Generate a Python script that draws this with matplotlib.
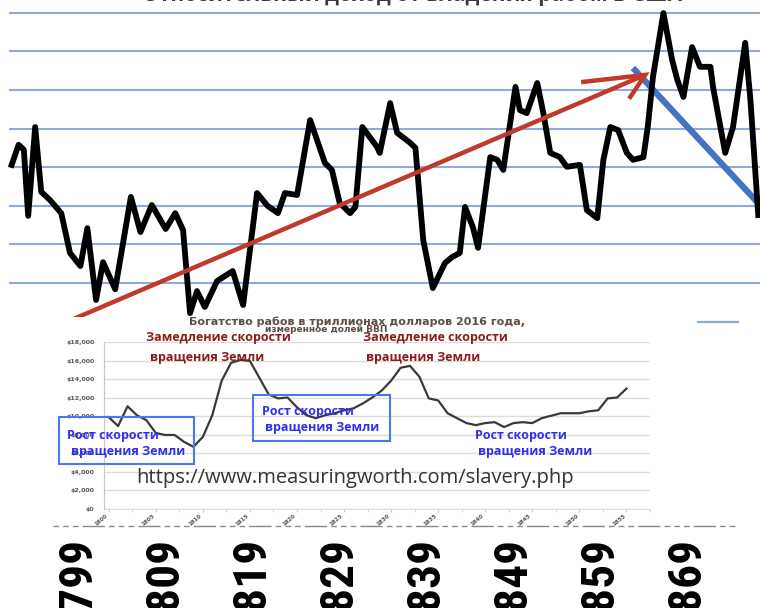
import numpy as np
import matplotlib
matplotlib.use("Agg")
import matplotlib.pyplot as plt
from matplotlib import font_manager
from matplotlib.lines import Line2D
from matplotlib.patches import Rectangle

W, H = 760, 608

# верхний график: относительный доход (условные единицы, линии сетки через 1)
top_years = [1791.6, 1792.4, 1793.0, 1793.5, 1794.3, 1795.0, 1796.0, 1797.3, 1798.3, 1799.5,
             1800.3, 1801.3, 1802.1, 1803.5, 1805.3, 1806.4, 1807.7, 1809.3, 1810.4, 1811.3,
             1812.1, 1812.9, 1813.8, 1815.2, 1817.0, 1818.2, 1819.8, 1821.0, 1822.2, 1823.0,
             1824.4, 1825.9, 1827.6, 1828.4, 1829.3, 1830.5, 1831.1, 1831.9, 1833.6, 1833.9,
             1835.1, 1835.9, 1837.4, 1838.0, 1838.9, 1840.0, 1841.4, 1842.2, 1843.1, 1843.7,
             1844.6, 1845.2, 1846.6, 1847.4, 1848.1, 1849.5, 1850.0, 1850.8, 1852.0, 1852.7,
             1853.5, 1854.6, 1855.4, 1856.9, 1857.7, 1858.9, 1859.6, 1860.4, 1861.3, 1862.3,
             1863.0, 1864.2, 1864.7, 1865.3, 1866.5, 1867.5, 1868.1, 1868.8, 1869.8, 1870.7,
             1871.9, 1872.2, 1873.6, 1874.5, 1875.9, 1876.5, 1877.4]
top_values = [3.06, 3.58, 3.45, 1.74, 4.04, 2.36, 2.15, 1.81, 0.78, 0.44,
              1.42, -0.44, 0.54, -0.16, 2.23, 1.32, 2.02, 1.40, 1.81, 1.37,
              -0.78, -0.21, -0.62, 0.05, 0.31, -0.57, 2.33, 2.00, 1.81, 2.33,
              2.28, 4.22, 3.11, 2.93, 2.07, 1.81, 1.97, 4.04, 3.52, 3.37,
              4.66, 3.89, 3.63, 3.50, 1.11, -0.13, 0.52, 0.67, 0.78, 1.97,
              1.45, 0.91, 3.26, 3.19, 2.93, 5.08, 4.48, 4.40, 5.18, 4.40,
              3.37, 3.26, 3.01, 3.06, 1.89, 1.68, 3.19, 4.04, 3.96, 3.37,
              3.19, 3.26, 4.04, 5.34, 6.99, 5.78, 5.26, 4.82, 6.11, 5.60,
              5.60, 5.08, 3.37, 4.04, 6.22, 4.74, 1.76]
top_grid = list(range(8))

arrow_x = [1798.0, 1864.4]
arrow_y = [-1.0, 5.39]
arrow_head_x = [1857.3, 1864.4, 1862.7]
arrow_head_y = [5.21, 5.39, 4.82]
down_x = [1863.0, 1878.5]
down_y = [5.57, 1.80]

# нижний график: богатство рабов, measuringworth
small_years = [1800, 1801, 1802, 1803, 1804, 1805, 1806, 1807, 1808, 1809,
               1810, 1811, 1812, 1813, 1814, 1815, 1816, 1817, 1818, 1819,
               1820, 1821, 1822, 1823, 1824, 1825, 1826, 1827, 1828, 1829,
               1830, 1831, 1832, 1833, 1834, 1835, 1836, 1837, 1838, 1839,
               1840, 1841, 1842, 1843, 1844, 1845, 1846, 1847, 1848, 1849,
               1850, 1851, 1852, 1853, 1854, 1855]
small_values = [9900, 8940, 11070, 10100, 9580, 8190, 7980, 7980, 7240, 6700,
                7770, 10100, 13830, 15750, 16070, 15960, 14150, 12340, 11920, 12020,
                10960, 10110, 9790, 10110, 10320, 10640, 10850, 11380, 12020, 12770,
                13830, 15220, 15430, 14260, 11920, 11700, 10320, 9790, 9260, 9040,
                9260, 9360, 8830, 9260, 9360, 9260, 9790, 10050, 10320, 10320,
                10320, 10530, 10640, 11920, 12020, 12980]
small_yticks = list(range(0, 18001, 2000))
small_xticks = list(range(1800, 1856, 5))

bottom_years = ['1799', '1809', '1819', '1829', '1839', '1849', '1859', '1869']


def fx(x):
    return x / W


def fy(y):
    return 1 - y / H


def box(x0, y0, x1, y1):
    return [x0 / W, 1 - y1 / H, (x1 - x0) / W, (y1 - y0) / H]


# узкий шрифт для крупных годов, если он есть
fonts = {(f.name, f.stretch) for f in font_manager.fontManager.ttflist}
names = {n for n, s in fonts}
narrow = ['condensed', 'semi-condensed', 'extra-condensed', 'ultra-condensed']
if 'Liberation Sans Narrow' in names:
    year_font = dict(family='Liberation Sans Narrow')
elif 'Roboto Condensed' in names:
    year_font = dict(family='Roboto Condensed')
elif any(n == 'Noto Sans' and s in narrow for n, s in fonts):
    year_font = dict(family='Noto Sans', fontstretch='condensed')
elif any(n == 'DejaVu Sans' and s in narrow for n, s in fonts):
    year_font = dict(family='DejaVu Sans', fontstretch='condensed')
else:
    year_font = dict(family='Liberation Sans')

fig = plt.figure(figsize=(7.6, 6.08), dpi=100)

ax_top = fig.add_axes(box(0, 0, 760, 317))
ax_top.set_xlim(1790.26, 1877.6)
ax_top.set_ylim(-0.88, 7.33)
ax_top.axis('off')
for g in top_grid:
    ax_top.axhline(g, xmin=10 / W, xmax=1, color='#8eaadb', lw=1.5, zorder=1)
ax_top.plot(down_x, down_y, color='#4472c4', lw=4.5, zorder=2, solid_capstyle='butt')
ax_top.plot(top_years, top_values, color='black', lw=4.2, zorder=3,
            solid_joinstyle='round')
ax_top.plot(arrow_x, arrow_y, color='#c0392b', lw=3.2, zorder=4, solid_capstyle='butt')
ax_top.plot(arrow_head_x, arrow_head_y, color='#c0392b', lw=3.2, zorder=4,
            solid_joinstyle='miter')

fig.text(fx(412), fy(1.5), 'Относительный доход от владения рабом в США',
         ha='center', va='baseline', fontsize=15, fontweight='bold',
         color='#3b3b3b', family=['Open Sans', 'DejaVu Sans'])

# белая подложка нижней картинки
panel = fig.add_axes(box(0, 317, 760, 608))
panel.set_facecolor('white')
panel.set_xticks([])
panel.set_yticks([])
for s in panel.spines.values():
    s.set_visible(False)

fig.add_artist(Line2D([fx(698), fx(738)], [fy(322), fy(322)], color='#8eaadb', lw=1.6))

fig.text(fx(357), fy(322), 'Богатство рабов в триллионах долларов 2016 года,',
         ha='center', va='center', fontsize=8, fontweight='bold', color='#5e4f42')
fig.text(fx(326), fy(330), 'измеренное долей ВВП',
         ha='center', va='center', fontsize=6.5, fontweight='bold', color='#5e4f42')

ax_s = fig.add_axes(box(104, 342, 650, 509))
ax_s.plot(small_years, small_values, color='#3a3a3a', lw=1.6, zorder=3)
ax_s.set_xlim(1799.5, 1855.5)
ax_s.set_ylim(0, 18000)
ax_s.set_yticks(small_yticks)
ax_s.set_yticklabels(['${:,}'.format(v) for v in small_yticks])
ax_s.set_xticks(small_xticks)
ax_s.set_xticklabels([str(v) for v in small_xticks], rotation=40, ha='right')
ax_s.set_xticks([v + 2.5 for v in small_xticks], minor=True)
ax_s.tick_params(axis='y', length=0, labelsize=4.5, labelcolor='#555555', pad=7)
ax_s.tick_params(axis='x', which='both', length=2, color='#cccccc',
                 labelsize=4, labelcolor='#555555', pad=1)
for lab in ax_s.get_yticklabels() + ax_s.get_xticklabels():
    lab.set_fontweight('bold')
ax_s.grid(axis='y', color='#dcdcdc', lw=1)
ax_s.set_axisbelow(True)
ax_s.spines['top'].set_visible(False)
ax_s.spines['right'].set_visible(False)
ax_s.spines['left'].set_color('#c8c8c8')
ax_s.spines['bottom'].set_color('#dcdcdc')
ax_s.patch.set_alpha(0)

red = '#8e1b1b'
blue = '#2f2ff0'
ann_font = ['Open Sans', 'DejaVu Sans']
for x, y, t in [(218, 338, 'Замедление скорости'), (207, 357, 'вращения Земли'),
                (435, 338, 'Замедление скорости'), (423, 357, 'вращения Земли')]:
    fig.text(fx(x), fy(y), t, ha='center', va='center', fontsize=9,
             fontweight='bold', color=red, family=ann_font)
for x, y, t in [(113, 435, 'Рост скорости'), (128, 452, 'вращения Земли'),
                (308, 411, 'Рост скорости'), (322, 428, 'вращения Земли'),
                (521, 435, 'Рост скорости'), (535, 452, 'вращения Земли')]:
    fig.text(fx(x), fy(y), t, ha='center', va='center', fontsize=9,
             fontweight='bold', color=blue, family=ann_font)
for b in [(59, 417, 194, 464), (253, 395, 390, 441)]:
    fig.add_artist(Rectangle((fx(b[0]), fy(b[3])), fx(b[2] - b[0]), (b[3] - b[1]) / H,
                             transform=fig.transFigure, fill=False,
                             edgecolor='#4a78f5', lw=1.5))

fig.text(fx(355), fy(478), 'https://www.measuringworth.com/slavery.php',
         ha='center', va='center', fontsize=14.5, color='#333333',
         family=['Open Sans', 'DejaVu Sans'])

fig.add_artist(Line2D([fx(53), fx(738)], [fy(526), fy(526)], color='#8a8a8a', lw=1,
                      linestyle=(0, (4, 3, 4, 3, 4, 3, 16, 3))))

# подбираем кегль так, чтобы четыре цифры занимали около 96 px
renderer = fig.canvas.get_renderer()
probe = fig.text(0, 0, '1799', fontsize=40, fontweight='bold', **year_font)
probe_w = probe.get_window_extent(renderer).width
probe.remove()
year_size = min(44, 40 * 96 / probe_w)
for i, t in enumerate(bottom_years):
    fig.text(fx(76 + 87 * i), fy(536), t, rotation=90, ha='center', va='top',
             color='black', fontsize=year_size, fontweight='bold', **year_font)

fig.savefig('out.png', dpi=100)
